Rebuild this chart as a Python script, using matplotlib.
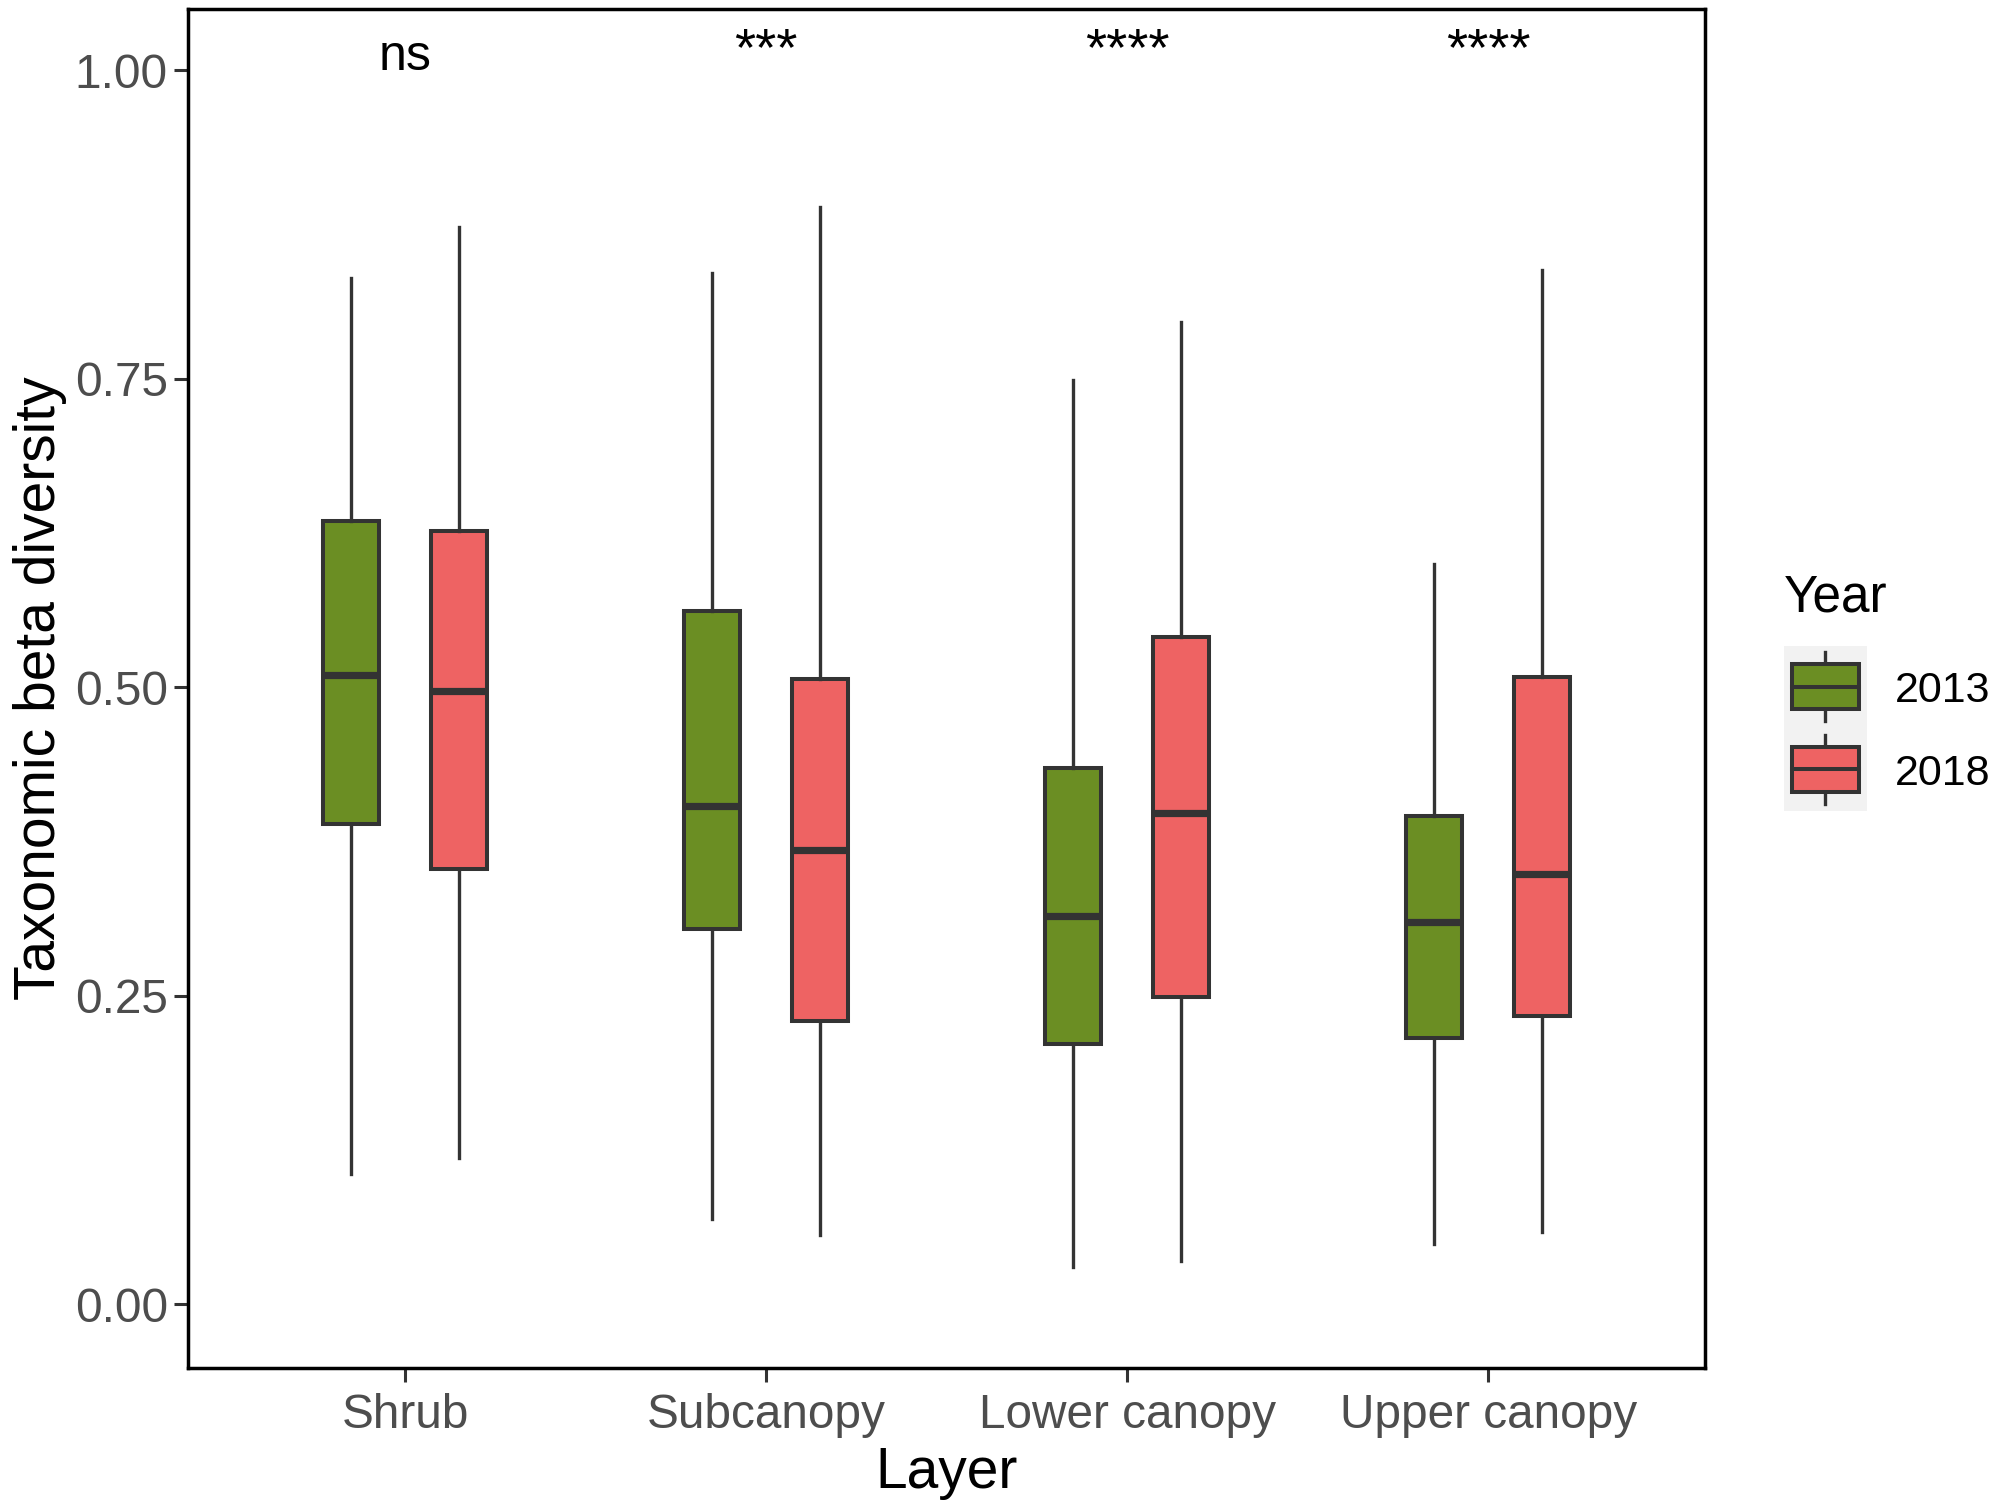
import numpy as np
import matplotlib
matplotlib.use('Agg')
import matplotlib.pyplot as plt
from matplotlib.legend_handler import HandlerBase
from matplotlib.patches import Rectangle, Patch
from matplotlib.lines import Line2D
from matplotlib.transforms import offset_copy

plt.rcParams['font.family'] = ['Liberation Sans', 'DejaVu Sans']

layers = ['Shrub', 'Subcanopy', 'Lower canopy', 'Upper canopy']
years = ['2013', '2018']
signif = ['ns', '***', '****', '****']

# box summaries: whisker low, Q1, median, Q3, whisker high
lo_2013 = [0.106, 0.069, 0.030, 0.049]
q1_2013 = [0.389, 0.304, 0.211, 0.216]
med_2013 = [0.510, 0.404, 0.315, 0.310]
q3_2013 = [0.635, 0.562, 0.435, 0.396]
hi_2013 = [0.832, 0.836, 0.749, 0.600]

lo_2018 = [0.119, 0.056, 0.035, 0.059]
q1_2018 = [0.353, 0.230, 0.249, 0.234]
med_2018 = [0.497, 0.368, 0.398, 0.349]
q3_2018 = [0.627, 0.507, 0.541, 0.508]
hi_2018 = [0.873, 0.889, 0.796, 0.838]

colors = ['#6B8E23', '#EE6363']
edge = '#333333'

series = [
    (lo_2013, q1_2013, med_2013, q3_2013, hi_2013),
    (lo_2018, q1_2018, med_2018, q3_2018, hi_2018),
]
offsets = [-0.15, 0.15]

fig = plt.figure(figsize=(9.975, 7.55), dpi=200)
ax = fig.add_axes([0.0944, 0.094, 0.7602, 0.900])

x = np.arange(1, len(layers) + 1)
for (lo, q1, med, q3, hi), off, c in zip(series, offsets, colors):
    stats = []
    for i in range(len(layers)):
        stats.append(dict(whislo=lo[i], q1=q1[i], med=med[i], q3=q3[i],
                          whishi=hi[i], fliers=[]))
    ax.bxp(stats, positions=x + off, widths=0.155, patch_artist=True,
           showcaps=False, showfliers=False, manage_ticks=False,
           boxprops=dict(facecolor=c, edgecolor=edge, linewidth=1.45),
           whiskerprops=dict(color=edge, linewidth=1.2),
           medianprops=dict(color=edge, linewidth=2.6, solid_capstyle='butt'))

# significance labels (asterisk glyphs sit a bit low in Liberation Sans)
star_tr = offset_copy(ax.transData, fig=fig, x=0, y=1.8, units='points')
for xi, s in zip(x, signif):
    if s == 'ns':
        ax.text(xi, 1.0, s, ha='center', va='baseline', fontsize=18, color='black')
    else:
        ax.text(xi, 1.0, s, ha='center', va='baseline', fontsize=19.5,
                color='black', transform=star_tr)

ax.set_xlim(0.4, 4.6)
ax.set_ylim(-0.0515, 1.0495)
ax.set_xticks(x)
ax.set_xticklabels(layers)
ax.set_yticks([0, 0.25, 0.5, 0.75, 1.0])
ax.set_yticklabels(['0.00', '0.25', '0.50', '0.75', '1.00'])
ax.tick_params(axis='both', labelsize=17.2, labelcolor='#4D4D4D', color='#333333',
               length=5, width=1.1)
ax.tick_params(axis='x', pad=4.0)
ax.tick_params(axis='y', pad=2.4)
for sp in ax.spines.values():
    sp.set_color('black')
    sp.set_linewidth(1.25)

ax.set_xlabel('Layer', fontsize=20.5, labelpad=3)
ax.set_ylabel('Taxonomic beta diversity', fontsize=20.5, labelpad=2.7)


class BoxKey(HandlerBase):
    def create_artists(self, legend, orig_handle, xdescent, ydescent,
                       width, height, fontsize, trans):
        x0 = -xdescent
        cx = x0 + width / 2
        cy = 0.358 * fontsize  # centre on the digits of the label
        bg = Rectangle((x0, cy - height / 2), width, height, facecolor='#F2F2F2',
                       edgecolor='none', transform=trans)
        bw = 0.8 * width
        bh = 0.55 * height
        box = Rectangle((cx - bw / 2, cy - bh / 2), bw, bh,
                        facecolor=orig_handle.get_facecolor(), edgecolor=edge,
                        linewidth=1.45, transform=trans)
        med = Line2D([cx - bw / 2, cx + bw / 2], [cy, cy], color=edge,
                     linewidth=1.45, transform=trans)
        wt = Line2D([cx, cx], [cy + bh / 2, cy + 0.42 * height], color=edge,
                    linewidth=1.2, transform=trans)
        wb = Line2D([cx, cx], [cy - bh / 2, cy - 0.42 * height], color=edge,
                    linewidth=1.2, transform=trans)
        return [bg, wt, wb, box, med]


handles = [Patch(facecolor=c) for c in colors]
leg = ax.legend(handles, years, title='Year', loc='upper left',
                bbox_to_anchor=(0.8942, 0.6205), bbox_transform=fig.transFigure,
                frameon=False, borderpad=0, borderaxespad=0,
                handlelength=1.93, handleheight=2.571, labelspacing=0,
                handletextpad=0.65, fontsize=15.5, title_fontsize=18.5,
                alignment='left', handler_map={Patch: BoxKey()})
leg._legend_box.sep = 9.3

fig.savefig('out.png', dpi=200)
